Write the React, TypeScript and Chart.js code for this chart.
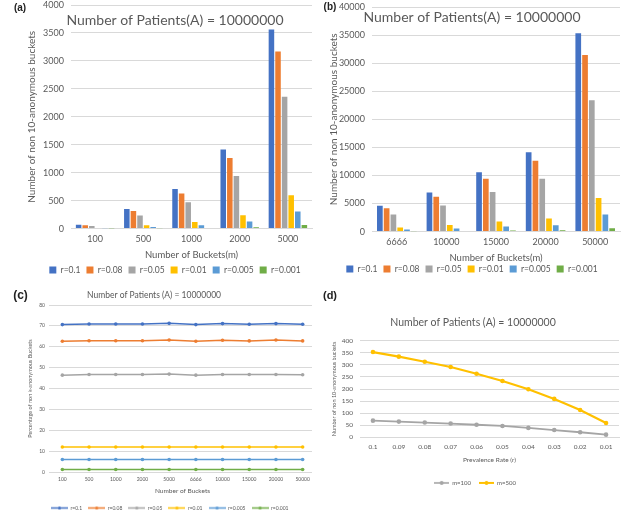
import React, { useEffect, useRef } from 'react';
import { Chart, registerables } from 'chart.js';

Chart.register(...registerables);

// ---------- data ----------
const SERIES_R = ['r=0.1', 'r=0.08', 'r=0.05', 'r=0.01', 'r=0.005', 'r=0.001'];
const COLORS_R = ['#4472C4', '#ED7D31', '#A5A5A5', '#FFC000', '#5B9BD5', '#70AD47'];

// (a) buckets m = 100..5000
const A_CATEGORIES = ['100', '500', '1000', '2000', '5000'];
const A_R0100 = [71, 352, 708, 1416, 3560];
const A_R0080 = [62, 316, 628, 1265, 3168];
const A_R0050 = [46, 236, 470, 942, 2358];
const A_R0010 = [12, 60, 119, 240, 598];
const A_R0005 = [6, 30, 60, 127, 306];
const A_R0001 = [1, 6, 12, 24, 66];
const A_TICKS = { min: 0, max: 4000, step: 500 };

// (b) buckets m = 6666..50000
const B_CATEGORIES = ['6666', '10000', '15000', '20000', '50000'];
const B_R0100 = [4600, 6985, 10570, 14150, 35340];
const B_R0080 = [4180, 6210, 9430, 12600, 31460];
const B_R0050 = [3050, 4660, 7045, 9430, 23400];
const B_R0010 = [720, 1195, 1790, 2330, 5970];
const B_R0005 = [360, 540, 895, 1135, 3045];
const B_R0001 = [70, 120, 200, 240, 600];
const B_TICKS = { min: 0, max: 40000, step: 5000 };

// (c) percentage of non k-anonymous buckets
const C_CATEGORIES = ['100', '500', '1000', '2000', '5000', '6666', '10000', '15000', '20000', '50000'];
const C_R0100 = [70.6, 70.9, 70.9, 70.9, 71.2, 70.6, 71.1, 70.8, 71.1, 70.8];
const C_R0080 = [62.6, 62.9, 62.9, 62.9, 63.2, 62.6, 63.1, 62.8, 63.2, 62.8];
const C_R0050 = [46.4, 46.7, 46.7, 46.7, 46.9, 46.4, 46.7, 46.7, 46.7, 46.6];
const C_R0010 = [12.0, 12.0, 12.0, 12.0, 12.0, 12.0, 12.0, 12.0, 12.0, 12.0];
const C_R0005 = [6.0, 6.0, 6.0, 6.0, 6.0, 6.0, 6.0, 6.0, 6.0, 6.0];
const C_R0001 = [1.2, 1.2, 1.2, 1.2, 1.2, 1.2, 1.2, 1.2, 1.2, 1.2];
const C_TICKS = { min: 0, max: 80, step: 10 };

// (d) prevalence rate
const D_CATEGORIES = ['0.1', '0.09', '0.08', '0.07', '0.06', '0.05', '0.04', '0.03', '0.02', '0.01'];
const D_SERIES = ['m=100', 'm=500'];
const D_COLORS = ['#A5A5A5', '#FFC000'];
const D_M100 = [69, 65, 61, 57, 52, 47, 39, 30, 21, 11];
const D_M500 = [353, 334, 313, 291, 263, 233, 199, 159, 113, 59];
const D_TICKS = { min: 0, max: 400, step: 50 };

const TITLE_A = 'Number of Patients(A) = 10000000';
const TITLE_C = 'Number of Patients (A) = 10000000';
const Y_TITLE_AB = 'Number of non 10-anonymous buckets';
const Y_TITLE_C = 'Percentage of non k-anonymous Buckets';
const X_TITLE_AB = 'Number of Buckets(m)';
const X_TITLE_C = 'Number of Buckets';
const X_TITLE_D = 'Prevalence Rate (r)';

// ---------- styling ----------
const FONT = 'Lato, "Open Sans", sans-serif';
const TEXT = '#595959';
const GRID = '#d9d9d9';

type OverlayItem = { text: string; x: number; y: number; font: string; color: string };

const overlayPlugin = (items: OverlayItem[]) => ({
  id: 'overlayText',
  afterDraw(chart: any) {
    const ctx = chart.ctx;
    for (const t of items) {
      ctx.save();
      ctx.font = t.font;
      ctx.fillStyle = t.color;
      ctx.textAlign = 'center';
      ctx.textBaseline = 'middle';
      ctx.fillText(t.text, t.x, t.y);
      ctx.restore();
    }
  },
});

const legendShiftPlugin = (dx: number, dy: number) => ({
  id: 'legendShift',
  afterLayout(chart: any) {
    const l = chart.legend;
    if (!l) return;
    l.left += dx;
    l.right += dx;
    l.top += dy;
    l.bottom += dy;
  },
});

function lineSample(color: string, w: number, h: number, lw: number, r: number) {
  const c = document.createElement('canvas');
  c.width = w;
  c.height = h;
  const x = c.getContext('2d')!;
  x.strokeStyle = color;
  x.lineWidth = lw;
  x.beginPath();
  x.moveTo(0, h / 2);
  x.lineTo(w, h / 2);
  x.stroke();
  x.fillStyle = color;
  x.beginPath();
  x.arc(w / 2, h / 2, r, 0, Math.PI * 2);
  x.fill();
  return c;
}

const plain = (v: any) => String(v);

function barConfig(opts: {
  categories: string[];
  series: number[][];
  ticks: { min: number; max: number; step: number };
  padding: { left: number; right: number; top: number; bottom: number };
  yWidth: number;
  overlay: OverlayItem[];
  legendDx: number;
  legendDy: number;
}): any {
  return {
    type: 'bar',
    data: {
      labels: opts.categories,
      datasets: opts.series.map((d, i) => ({
        label: SERIES_R[i],
        data: d,
        backgroundColor: COLORS_R[i],
        borderWidth: 0,
        categoryPercentage: 0.82,
        barPercentage: 0.84,
      })),
    },
    options: {
      responsive: false,
      animation: false,
      layout: { padding: opts.padding },
      scales: {
        x: {
          grid: { display: false, drawTicks: false },
          border: { display: true, color: GRID },
          ticks: { color: TEXT, font: { family: FONT, size: 9 }, padding: 5 },
          title: {
            display: true,
            text: X_TITLE_AB,
            color: TEXT,
            font: { family: FONT, size: 9.5 },
            padding: { top: 0, bottom: 0 },
          },
        },
        y: {
          min: opts.ticks.min,
          max: opts.ticks.max,
          grid: { color: GRID, drawTicks: false },
          border: { display: false },
          ticks: { stepSize: opts.ticks.step, color: TEXT, font: { family: FONT, size: 9 }, padding: 7, callback: plain },
          title: {
            display: true,
            text: Y_TITLE_AB,
            color: TEXT,
            font: { family: FONT, size: 10 },
            padding: { top: 2, bottom: 0 },
          },
          afterFit: (s: any) => {
            s.width = opts.yWidth;
            s.paddingTop = 5;
            s.paddingBottom = 5;
          },
        },
      },
      plugins: {
        legend: {
          position: 'bottom',
          labels: {
            boxWidth: 7,
            boxHeight: 7,
            padding: 6,
            color: TEXT,
            font: { family: FONT, size: 8.5 },
          },
        },
        tooltip: { enabled: false },
      },
    },
    plugins: [overlayPlugin(opts.overlay), legendShiftPlugin(opts.legendDx, opts.legendDy)],
  };
}

export default function App() {
  const refA = useRef<HTMLCanvasElement>(null);
  const refB = useRef<HTMLCanvasElement>(null);
  const refC = useRef<HTMLCanvasElement>(null);
  const refD = useRef<HTMLCanvasElement>(null);

  useEffect(() => {
    const charts: Chart[] = [];

    charts.push(
      new Chart(
        refA.current!,
        barConfig({
          categories: A_CATEGORIES,
          series: [A_R0100, A_R0080, A_R0050, A_R0010, A_R0005, A_R0001],
          ticks: A_TICKS,
          padding: { left: 24, right: 1, top: 5, bottom: 4.7 },
          yWidth: 47,
          overlay: [
            { text: '(a)', x: 20, y: 8, font: 'bold 10px "Liberation Sans", Arial, sans-serif', color: '#222' },
            { text: TITLE_A, x: 175, y: 20, font: `14px ${FONT}`, color: TEXT },
          ],
          legendDx: 7,
          legendDy: -1,
        })
      )
    );

    charts.push(
      new Chart(
        refB.current!,
        barConfig({
          categories: B_CATEGORIES,
          series: [B_R0100, B_R0080, B_R0050, B_R0010, B_R0005, B_R0001],
          ticks: B_TICKS,
          padding: { left: 16, right: 5, top: 7, bottom: 1.7 },
          yWidth: 46,
          overlay: [
            { text: '(b)', x: 20, y: 7, font: 'bold 10px "Liberation Sans", Arial, sans-serif', color: '#222' },
            { text: TITLE_A, x: 162, y: 17, font: `14px ${FONT}`, color: TEXT },
          ],
          legendDx: -1,
          legendDy: -5,
        })
      )
    );

    const cSamples = COLORS_R.map((c) => lineSample(c, 17, 5, 1.5, 1.6));
    const cSeries = [C_R0100, C_R0080, C_R0050, C_R0010, C_R0005, C_R0001];
    charts.push(
      new Chart(refC.current!, {
        type: 'line',
        data: {
          labels: C_CATEGORIES,
          datasets: cSeries.map((d, i) => ({
            label: SERIES_R[i],
            data: d,
            borderColor: COLORS_R[i],
            backgroundColor: COLORS_R[i],
            borderWidth: 1.5,
            pointRadius: 1.8,
            pointBorderWidth: 0,
            pointBackgroundColor: COLORS_R[i],
            tension: 0,
          })),
        },
        options: {
          responsive: false,
          animation: false,
          layout: { padding: { left: 27, right: 1.5, top: 20, bottom: 0.2 } },
          scales: {
            x: {
              offset: true,
              grid: { display: false, drawTicks: false },
              border: { display: true, color: GRID },
              ticks: { color: TEXT, font: { family: FONT, size: 5 }, padding: 4, maxRotation: 0, autoSkip: false },
              title: {
                display: true,
                text: X_TITLE_C,
                color: TEXT,
                font: { family: FONT, size: 6.5 },
                padding: { top: 1, bottom: 0 },
              },
            },
            y: {
              min: C_TICKS.min,
              max: C_TICKS.max,
              grid: { color: GRID, drawTicks: false },
              border: { display: false },
              ticks: { stepSize: C_TICKS.step, color: TEXT, font: { family: FONT, size: 5 }, padding: 4, callback: plain },
              title: {
                display: true,
                text: Y_TITLE_C,
                color: TEXT,
                font: { family: FONT, size: 5.5 },
                padding: { top: 0, bottom: 0 },
              },
              afterFit: (s: any) => {
                s.width = 22;
              },
            },
          },
          plugins: {
            legend: {
              position: 'bottom',
              labels: {
                usePointStyle: true,
                pointStyleWidth: 17,
                padding: 6,
                color: TEXT,
                font: { family: FONT, size: 5 },
                generateLabels: (chart: any) =>
                  Chart.defaults.plugins.legend.labels
                    .generateLabels(chart)
                    .map((it: any, i: number) => ({ ...it, pointStyle: cSamples[i] })),
              },
            },
            tooltip: { enabled: false },
          },
        },
        plugins: [
          overlayPlugin([
            { text: '(c)', x: 20.5, y: 11, font: 'bold 12px "Liberation Sans", Arial, sans-serif', color: '#222' },
            { text: TITLE_C, x: 154, y: 10, font: `8.5px ${FONT}`, color: TEXT },
          ]),
          legendShiftPlugin(-3, 4.7),
        ],
      } as any)
    );

    const dSamples = D_COLORS.map((c, i) => lineSample(c, 15, 6, i === 1 ? 2 : 1.6, 2));
    const dSeries = [D_M100, D_M500];
    charts.push(
      new Chart(refD.current!, {
        type: 'line',
        data: {
          labels: D_CATEGORIES,
          datasets: dSeries.map((d, i) => ({
            label: D_SERIES[i],
            data: d,
            borderColor: D_COLORS[i],
            backgroundColor: D_COLORS[i],
            borderWidth: i === 1 ? 2.2 : 1.8,
            pointRadius: 2.3,
            pointBorderWidth: 0,
            pointBackgroundColor: D_COLORS[i],
            tension: 0,
          })),
        },
        options: {
          responsive: false,
          animation: false,
          layout: { padding: { left: 19, right: 6, top: 55.7, bottom: 28.1 } },
          scales: {
            x: {
              offset: true,
              grid: { display: false, drawTicks: false },
              border: { display: true, color: GRID },
              ticks: { color: TEXT, font: { family: FONT, size: 6.5 }, padding: 5.5, maxRotation: 0, autoSkip: false },
              title: {
                display: true,
                text: X_TITLE_D,
                color: TEXT,
                font: { family: FONT, size: 6.5 },
                padding: { top: 0, bottom: 0 },
              },
            },
            y: {
              min: D_TICKS.min,
              max: D_TICKS.max,
              grid: { color: GRID, drawTicks: false },
              border: { display: false },
              ticks: { stepSize: D_TICKS.step, color: TEXT, font: { family: FONT, size: 6.5 }, padding: 7, callback: plain },
              title: {
                display: true,
                text: Y_TITLE_AB,
                color: TEXT,
                font: { family: FONT, size: 5.5 },
                padding: { top: 0, bottom: 0 },
              },
              afterFit: (s: any) => {
                s.width = 29;
              },
            },
          },
          plugins: {
            legend: {
              position: 'bottom',
              labels: {
                usePointStyle: true,
                pointStyleWidth: 15,
                padding: 8,
                color: TEXT,
                font: { family: FONT, size: 6 },
                generateLabels: (chart: any) =>
                  Chart.defaults.plugins.legend.labels
                    .generateLabels(chart)
                    .map((it: any, i: number) => ({ ...it, pointStyle: dSamples[i] })),
              },
            },
            tooltip: { enabled: false },
          },
        },
        plugins: [
          overlayPlugin([
            { text: '(d)', x: 18, y: 11, font: 'bold 11px "Liberation Sans", Arial, sans-serif', color: '#222' },
            { text: TITLE_C, x: 161, y: 38, font: `10.5px ${FONT}`, color: TEXT },
          ]),
          legendShiftPlugin(0, 8),
        ],
      } as any)
    );

    return () => charts.forEach((c) => c.destroy());
  }, []);

  const abs = (left: number, top: number, w: number, h: number): React.CSSProperties => ({
    position: 'absolute',
    left,
    top,
    width: w,
    height: h,
  });

  return (
    <div
      style={{
        position: 'fixed',
        left: 0,
        top: 0,
        width: 625,
        height: 516,
        background: '#ffffff',
        overflow: 'hidden',
      }}
    >
      <canvas ref={refA} width={313} height={290} style={abs(0, 0, 313, 290)} />
      <canvas ref={refB} width={315} height={290} style={abs(310, 0, 315, 290)} />
      <div style={{ ...abs(0, 285, 312, 231), overflow: 'hidden' }}>
        <canvas ref={refC} width={320} height={231} style={abs(0, 0, 320, 231)} />
      </div>
      <canvas ref={refD} width={313} height={231} style={abs(312, 285, 313, 231)} />
    </div>
  );
}
